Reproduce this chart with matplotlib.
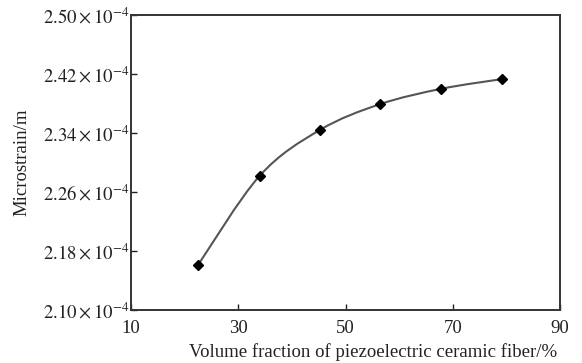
import numpy as np
import matplotlib
matplotlib.use('Agg')
import matplotlib.pyplot as plt
from matplotlib.path import Path
from matplotlib.patches import PathPatch

# --- Data ---
volume_fraction = [22.5, 34.0, 45.2, 56.4, 67.9, 79.1]
microstrain = [2.161e-4, 2.282e-4, 2.344e-4, 2.379e-4, 2.400e-4, 2.413e-4]
x_ticks = [10, 30, 50, 70, 90]
y_ticks = [2.10e-4, 2.18e-4, 2.26e-4, 2.34e-4, 2.42e-4, 2.50e-4]

plt.rcParams['font.family'] = ['Liberation Serif', 'DejaVu Serif']
plt.rcParams['mathtext.fontset'] = 'stix'

fig = plt.figure(figsize=(5.82, 3.63), dpi=100)
ax = fig.add_axes([131 / 582, 1 - 310 / 363, 429 / 582, 295 / 363])

# smooth curve through the points (Catmull-Rom as cubic Bezier segments)
x = np.array(volume_fraction)
y = np.array(microstrain)
verts = [(x[0], y[0])]
codes = [Path.MOVETO]
for i in range(len(x) - 1):
    x0, y0 = (x[i - 1], y[i - 1]) if i > 0 else (x[i], y[i])
    x3, y3 = (x[i + 2], y[i + 2]) if i + 2 < len(x) else (x[i + 1], y[i + 1])
    c1 = (x[i] + (x[i + 1] - x0) / 6, y[i] + (y[i + 1] - y0) / 6)
    c2 = (x[i + 1] - (x3 - x[i]) / 6, y[i + 1] - (y3 - y[i]) / 6)
    verts += [c1, c2, (x[i + 1], y[i + 1])]
    codes += [Path.CURVE4] * 3
ax.add_patch(PathPatch(Path(verts, codes), facecolor='none', edgecolor='#555555', lw=1.5))

ax.plot(volume_fraction, microstrain, 'D', color='black', markersize=5.5, lw=0)

ax.set_xlim(10, 90)
ax.set_ylim(2.10e-4, 2.50e-4)
ax.set_xticks(x_ticks)
ax.set_xticklabels([str(t) for t in x_ticks])
ax.set_yticks(y_ticks)
ax.set_yticklabels([r'$\mathrm{%.2f}\times\mathrm{10}^{-4}$' % (t * 1e4) for t in y_ticks])

ax.tick_params(direction='in', length=4, width=1, labelsize=13.5, colors='#222222')
ax.tick_params(axis='y', pad=1)
ax.tick_params(axis='x', pad=7)
for s in ax.spines.values():
    s.set_linewidth(1.4)
    s.set_color('#333333')

ax.set_xlabel('Volume fraction of piezoelectric ceramic fiber/%', fontsize=13.5, color='#222222')
ax.xaxis.set_label_coords((373 - 131) / 429, (310 - 352) / 295)
ax.xaxis.label.set_va('center')
ax.set_ylabel('Microstrain/m', fontsize=13.5, color='#222222')
ax.yaxis.set_label_coords((22 - 131) / 429, 0.5)
ax.yaxis.label.set_va('center')

fig.savefig('out.png', dpi=100)
